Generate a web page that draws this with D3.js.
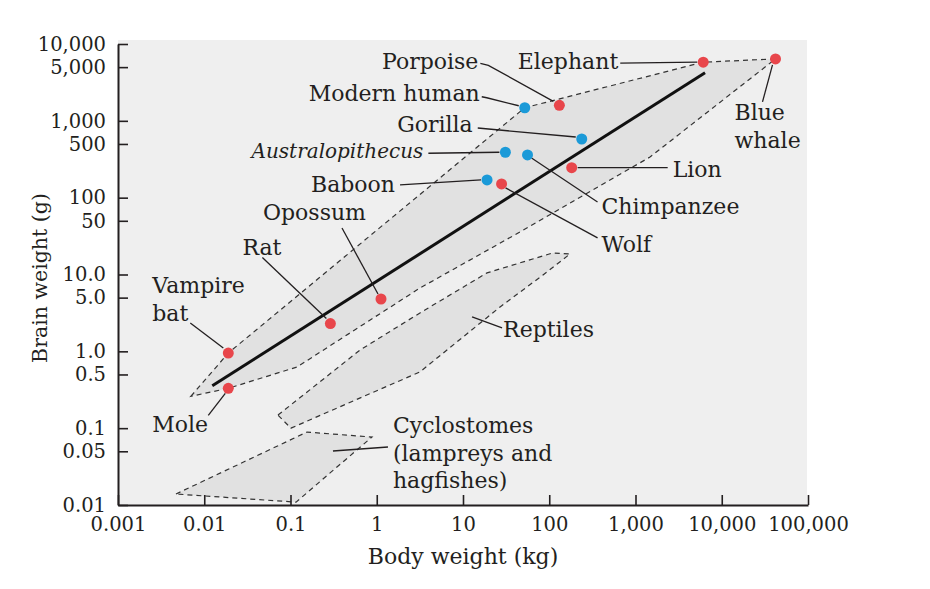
<!DOCTYPE html>
<html>
<head>
<meta charset="utf-8">
<script src="https://cdn.jsdelivr.net/npm/d3@7"></script>
<style>
  html, body { margin: 0; padding: 0; background: #fff; }
  svg { display: block; }
  .chart-label { font-family: 'DejaVu Serif', serif; font-size: 22px; fill: #231f20; }
  .chart-axis text { font-family: 'DejaVu Serif', serif; font-size: 19.5px; fill: #231f20; }
  .chart-axis line, .chart-axis path { stroke: #231f20; }
</style>
</head>
<body>
<div id="chart"></div>
<script>
// Brain weight vs body weight, log-log, with shaded envelopes per group.

const animals = ['Vampire bat', 'Mole', 'Rat', 'Opossum', 'Baboon', 'Wolf', 'Australopithecus',
  'Chimpanzee', 'Gorilla', 'Lion', 'Modern human', 'Porpoise', 'Elephant', 'Blue whale'];
const bodyKg = [0.019, 0.019, 0.29, 1.12, 19, 28, 31, 56, 238, 182, 52, 131, 6100, 42000];
const brainG = [0.95, 0.33, 2.3, 4.8, 170, 151, 390, 360, 580, 246, 1480, 1590, 5800, 6400];
const primate = [false, false, false, false, true, false, true, true, true, false, true, false, false, false];

// fitted mammal line, end points
const fitKg = [0.0124, 6400];
const fitG = [0.357, 4236];

// envelopes
const mammalKg = [0.0070, 0.019, 52, 6100, 42000, 1473, 45.8, 3.17, 0.119, 0.019];
const mammalG = [0.26, 0.95, 1480, 5800, 6400, 338, 35.8, 6.67, 0.625, 0.33];
const reptileKg = [0.0716, 0.64, 3.17, 19.0, 110, 174, 84.7, 26.9, 3.17, 0.101];
const reptileG = [0.148, 1.04, 3.16, 10.5, 19.1, 18.5, 9.86, 3.78, 0.54, 0.1];
const cycloKg = [0.0047, 0.155, 0.88, 0.116];
const cycloG = [0.0139, 0.089, 0.0767, 0.0109];

const xTicks = [0.001, 0.01, 0.1, 1, 10, 100, 1000, 10000, 100000];
const xTickLabels = ['0.001', '0.01', '0.1', '1', '10', '100', '1,000', '10,000', '100,000'];
const yTicks = [0.01, 0.05, 0.1, 0.5, 1, 5, 10, 50, 100, 500, 1000, 5000, 10000];
const yTickLabels = ['0.01', '0.05', '0.1', '0.5', '1.0', '5.0', '10.0', '50', '100', '500', '1,000', '5,000', '10,000'];

// label placement relative to each dot (pixels)
const labelLayout = {
  'Vampire bat': { lines: ['Vampire', 'bat'], anchor: 'start', dx: -76, dy: -60, leader: [[-38, -30], [-5, -5]] },
  'Mole': { lines: ['Mole'], anchor: 'start', dx: -76, dy: 44, leader: [[-20, 27], [-3, 5]] },
  'Rat': { lines: ['Rat'], anchor: 'start', dx: -88, dy: -69, leader: [[-68, -66], [-4, -5]] },
  'Opossum': { lines: ['Opossum'], anchor: 'start', dx: -118, dy: -79, leader: [[-39, -71], [-3, -5]] },
  'Baboon': { lines: ['Baboon'], anchor: 'end', dx: -92, dy: 12, leader: [[-87, 5], [-6, 0]] },
  'Wolf': { lines: ['Wolf'], anchor: 'start', dx: 100, dy: 68, leader: [[4, 4], [96, 54]] },
  'Australopithecus': { lines: ['Australopithecus'], anchor: 'end', italic: true, size: 20, dx: -82, dy: 6, leader: [[-77, 1], [-6, 0]] },
  'Chimpanzee': { lines: ['Chimpanzee'], anchor: 'start', dx: 74, dy: 59, leader: [[4, 3], [70, 47]] },
  'Gorilla': { lines: ['Gorilla'], anchor: 'end', dx: -109, dy: -7, leader: [[-104, -11], [-6, -2]] },
  'Lion': { lines: ['Lion'], anchor: 'start', dx: 101, dy: 9, leader: [[6, 0], [96, 0]] },
  'Modern human': { lines: ['Modern human'], anchor: 'end', dx: -45, dy: -7, leader: [[-43, -11], [-38, -10], [-6, -2]] },
  'Porpoise': { lines: ['Porpoise'], anchor: 'end', dx: -81, dy: -36, leader: [[-79, -42], [-71, -40], [-6, -4]] },
  'Elephant': { lines: ['Elephant'], anchor: 'end', dx: -85, dy: 7, leader: [[-83, 1], [-6, 0]] },
  'Blue whale': { lines: ['Blue', 'whale'], anchor: 'start', dx: -41, dy: 61, leader: [[-3, 6], [-13, 43]] }
};

const RED = '#e8464b';
const BLUE = '#1b9ad8';
const INK = '#231f20';

const width = 930;
const height = 589;
const plot = { left: 118, right: 808, top: 44, bottom: 505 };

const svg = d3.select('#chart').append('svg').attr('width', width).attr('height', height);

const x = d3.scaleLog().domain([0.001, 100000]).range([plot.left, plot.right]);
const y = d3.scaleLog().domain([0.01, 10000]).range([plot.bottom, plot.top]);

svg
  .append('rect')
  .attr('x', plot.left)
  .attr('y', plot.top - 4)
  .attr('width', plot.right - plot.left - 1)
  .attr('height', plot.bottom - plot.top + 4)
  .attr('fill', '#efefef');

const envelope = (kg, g) => kg.map((d, i) => [x(d), y(g[i])]);
[
  envelope(mammalKg, mammalG),
  envelope(reptileKg, reptileG),
  envelope(cycloKg, cycloG)
].forEach((pts) => {
  svg
    .append('path')
    .attr('d', d3.line()(pts) + 'Z')
    .attr('fill', '#e1e1e1')
    .attr('stroke', '#333')
    .attr('stroke-width', 1.2)
    .attr('stroke-dasharray', '5,4');
});

svg
  .append('line')
  .attr('x1', x(fitKg[0]))
  .attr('y1', y(fitG[0]))
  .attr('x2', x(fitKg[1]))
  .attr('y2', y(fitG[1]))
  .attr('stroke', '#111')
  .attr('stroke-width', 3);

// axes
svg
  .append('g')
  .attr('class', 'chart-axis')
  .attr('transform', `translate(${plot.left},0)`)
  .call(d3.axisLeft(y).tickValues(yTicks).tickSize(-10).tickSizeOuter(0).tickPadding(12)
    .tickFormat((d, i) => yTickLabels[i]))
  .call((g) => g.select('.domain').attr('stroke-width', 2))
  .call((g) => g.selectAll('.tick line').attr('stroke-width', 1.6));

svg
  .append('g')
  .attr('class', 'chart-axis')
  .attr('transform', `translate(0,${plot.bottom})`)
  .call(d3.axisBottom(x).tickValues(xTicks).tickSize(-10).tickSizeOuter(0).tickPadding(12)
    .tickFormat((d, i) => xTickLabels[i]))
  .call((g) => g.select('.domain').attr('stroke-width', 2))
  .call((g) => g.selectAll('.tick line').attr('stroke-width', 1.6));

svg
  .append('text')
  .attr('class', 'chart-label')
  .attr('x', 463)
  .attr('y', 564)
  .attr('text-anchor', 'middle')
  .text('Body weight (kg)');

svg
  .append('text')
  .attr('class', 'chart-label')
  .attr('transform', 'translate(47,278) rotate(-90)')
  .attr('text-anchor', 'middle')
  .style('font-size', '20.5px')
  .text('Brain weight (g)');

// leaders and labels
const leader = d3.line();
animals.forEach((name, i) => {
  const layout = labelLayout[name];
  const px = x(bodyKg[i]);
  const py = y(brainG[i]);
  svg
    .append('path')
    .attr('d', leader(layout.leader.map(([dx, dy]) => [px + dx, py + dy])))
    .attr('fill', 'none')
    .attr('stroke', INK)
    .attr('stroke-width', 1.3);
  const text = svg
    .append('text')
    .attr('class', 'chart-label')
    .attr('text-anchor', layout.anchor)
    .style('font-style', layout.italic ? 'italic' : null)
    .style('font-size', layout.size ? `${layout.size}px` : null);
  layout.lines.forEach((line, j) => {
    text.append('tspan').attr('x', px + layout.dx).attr('y', py + layout.dy + j * 28).text(line);
  });
});

// group labels, anchored on an envelope vertex
const groupLabels = [
  { lines: ['Reptiles'], kg: reptileKg[7], g: reptileG[7], dx: 3, dy: 30, leader: [[-28, 10], [2, 21]] },
  { lines: ['Cyclostomes', '(lampreys and', 'hagfishes)'], kg: cycloKg[2], g: cycloG[2], dx: 21, dy: -4, leader: [[-39, 14], [16, 10]] }
];
groupLabels.forEach((lab) => {
  const px = x(lab.kg);
  const py = y(lab.g);
  svg
    .append('path')
    .attr('d', leader(lab.leader.map(([dx, dy]) => [px + dx, py + dy])))
    .attr('fill', 'none')
    .attr('stroke', INK)
    .attr('stroke-width', 1.3);
  const text = svg.append('text').attr('class', 'chart-label');
  lab.lines.forEach((line, j) => {
    text.append('tspan').attr('x', px + lab.dx).attr('y', py + lab.dy + j * 27.5).text(line);
  });
});

svg
  .selectAll('circle.dot')
  .data(animals)
  .join('circle')
  .attr('class', 'dot')
  .attr('cx', (d, i) => x(bodyKg[i]))
  .attr('cy', (d, i) => y(brainG[i]))
  .attr('r', 5.5)
  .attr('fill', (d, i) => (primate[i] ? BLUE : RED));
</script>
</body>
</html>
